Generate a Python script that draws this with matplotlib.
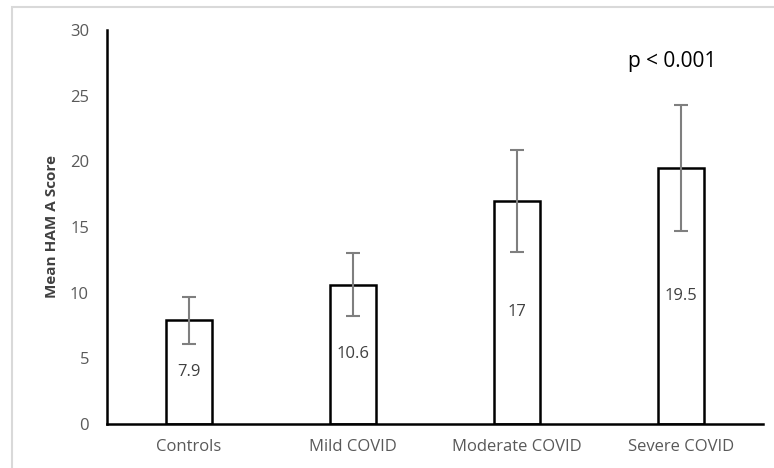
import matplotlib.pyplot as plt
from matplotlib.patches import Rectangle

categories = ["Controls", "Mild COVID", "Moderate COVID", "Severe COVID"]
means = [7.9, 10.6, 17, 19.5]
errors = [1.8, 2.4, 3.9, 4.8]
labels = ["7.9", "10.6", "17", "19.5"]
yticks = [0, 5, 10, 15, 20, 25, 30]

plt.rcParams['font.family'] = ['Open Sans', 'DejaVu Sans']

fig = plt.figure(figsize=(7.74, 4.68), dpi=100)
# light grey frame (top and left edge only visible)
fig.patches.append(Rectangle((12 / 774, -0.1), 1.2, 1 - 7 / 468 + 0.1, transform=fig.transFigure,
                             fill=False, edgecolor='#d9d9d9', linewidth=1.5))

ax = fig.add_axes([107 / 774, 1 - 424 / 468, (763 - 107) / 774, (424 - 30) / 468])
x = range(len(categories))
ax.bar(x, means, width=0.275, color='white', edgecolor='black', linewidth=1.8, zorder=2)
ax.errorbar(x, means, yerr=errors, fmt='none', ecolor='#7f7f7f', elinewidth=1.5,
            capsize=5, capthick=1.5, zorder=3)

for i, v in enumerate(means):
    ax.text(i, v / 2, labels[i], ha='center', va='center', fontsize=12, color='#404040', zorder=4)

ax.set_xlim(-0.5, 3.5)
ax.set_ylim(0, 30)
ax.set_yticks(yticks)
ax.set_xticks(list(x))
ax.set_xticklabels(categories)
ax.tick_params(length=0, labelsize=12, labelcolor='#595959')
ax.tick_params(axis='y', pad=13)
ax.tick_params(axis='x', pad=11)
for s in ['top', 'right']:
    ax.spines[s].set_visible(False)
for s in ['left', 'bottom']:
    ax.spines[s].set_linewidth(1.8)
ax.set_ylabel("Mean HAM A Score", fontsize=11, fontweight='bold', color='#404040', labelpad=8)

ax.text(2.945, 27.6, "p < 0.001", ha='center', va='center', fontsize=15, color='black')

fig.savefig("out.png", dpi=100)
